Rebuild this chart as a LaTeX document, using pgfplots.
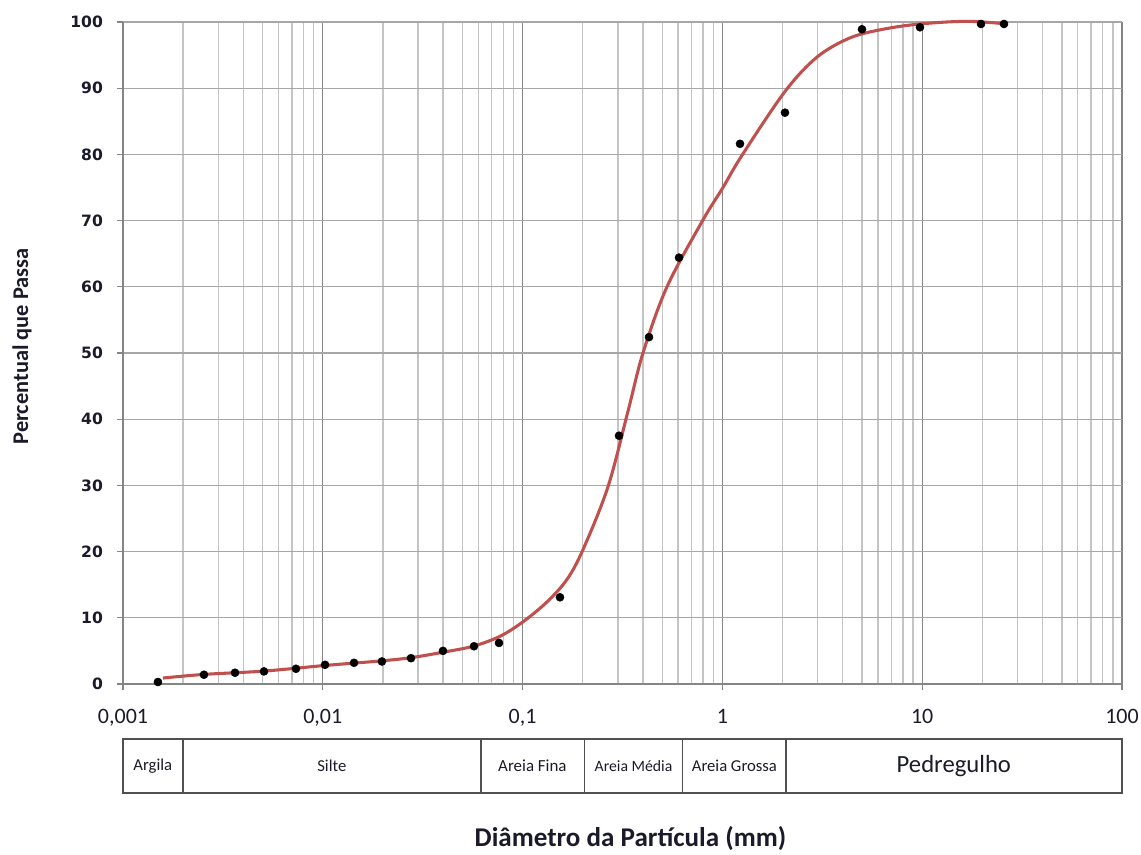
\documentclass[border=0pt]{standalone}
\usepackage{fontspec}
\setmainfont{Carlito}
\newfontfamily\dejavu{DejaVu Sans}
\usepackage{pgfplots}
\pgfplotsset{compat=1.18}
\definecolor{curvered}{HTML}{C0504D}
\definecolor{gridlight}{HTML}{C4C4C4}
\definecolor{griddark}{HTML}{858585}
\definecolor{tabline}{HTML}{505050}
\definecolor{txt}{HTML}{1A1A2A}
\begin{document}
\begin{tikzpicture}
\path[use as bounding box] (-92.25pt,-128.25pt) rectangle (763.5pt,513pt);
\begin{axis}[
  scale only axis,
  width=749.25pt, height=496.5pt,
  xmode=log, log basis x=10,
  xmin=0.001, xmax=100, ymin=0, ymax=100,
  xtick={0.001,0.01,0.1,1,10,100},
  xticklabels={{0,001},{0,01},{0,1},1,10,100},
  minor xtick={0.002,0.003,0.004,0.005,0.006,0.007,0.008,0.009,
               0.02,0.03,0.04,0.05,0.06,0.07,0.08,0.09,
               0.2,0.3,0.4,0.5,0.6,0.7,0.8,0.9,
               2,3,4,5,6,7,8,9,
               20,30,40,50,60,70,80,90},
  ytick={0,10,...,100},
  /pgf/number format/assume math mode=true,
  axis lines=left,
  axis line style={-, draw=griddark, line width=1.1pt},
  tick align=outside,
  major tick length=4.5pt,
  minor tick length=0pt,
  tick style={draw=griddark, line width=1pt},
  xmajorgrids, xminorgrids, ymajorgrids,
  major x grid style={draw=griddark, line width=1pt},
  minor x grid style={draw=gridlight, line width=1pt},
  major y grid style={draw=gridlight!85!black, line width=1pt},
  xticklabel style={font=\fontsize{16.5}{18}\selectfont, text=txt, yshift=-11pt},
  yticklabel style={font=\dejavu\bfseries\fontsize{11.7}{13}\selectfont, text=txt, xshift=-7pt},
  xlabel={Diâmetro da Partícula (mm)},
  ylabel={Percentual que Passa},
  xlabel style={at={(axis description cs:0.508,-0.234)}, anchor=center, text=txt, font=\bfseries\fontsize{20.3}{24}\selectfont},
  ylabel style={at={(axis description cs:-0.101,0.51)}, anchor=center, text=txt, font=\bfseries\fontsize{16.8}{19}\selectfont},
  clip=false,
]
% fitted curve
\addplot[curvered, line width=2.3pt, smooth, tension=0.55] coordinates {
(0.001585,0.9) (0.002543,1.45) (0.005077,1.95) (0.01026,2.8) (0.01977,3.5)
(0.02796,4.0) (0.03996,4.8) (0.05647,5.7) (0.07707,7.2) (0.1005,9.4)
(0.1325,12.4) (0.1668,15.8) (0.2006,20.3) (0.2676,29.8) (0.3369,41.2)
(0.4005,50.0) (0.5281,60.0) (0.7998,70.1) (1.007,75.0) (1.25,79.8)
(2.057,89.5) (2.976,94.7) (4.352,97.6) (6.365,98.9) (9.75,99.7)
(16.76,100.1) (26.58,99.7)
};
% measured points
\addplot[only marks, mark=*, mark size=3pt, black] coordinates {
(0.001496,0.3) (0.002543,1.4) (0.003636,1.7) (0.005077,1.9) (0.007342,2.3)
(0.01026,2.9) (0.01433,3.2) (0.01977,3.4) (0.02763,3.9) (0.03996,5.0)
(0.05713,5.7) (0.07619,6.2) (0.1539,13.1) (0.3038,37.5) (0.4292,52.4)
(0.6066,64.4) (1.225,81.6) (2.057,86.3) (4.996,98.9) (9.75,99.2)
(19.7,99.7) (25.67,99.7)
};
% classification table
\draw[tabline, line width=1.4pt] (axis cs:0.001,-8.31) rectangle (axis cs:100,-16.47);
\draw[tabline, line width=1.4pt] (axis cs:0.002,-8.31) -- (axis cs:0.002,-16.47);
\draw[tabline, line width=1.4pt] (axis cs:0.062,-8.31) -- (axis cs:0.062,-16.47);
\draw[tabline, line width=1.4pt] (axis cs:0.204,-8.31) -- (axis cs:0.204,-16.47);
\draw[tabline, line width=1.4pt] (axis cs:0.631,-8.31) -- (axis cs:0.631,-16.47);
\draw[tabline, line width=1.4pt] (axis cs:2.09,-8.31) -- (axis cs:2.09,-16.47);
\node[text=txt, font=\fontsize{12.5}{14}\selectfont] at (axis cs:0.00141,-12.39) {Argila};
\node[text=txt, font=\fontsize{12.5}{14}\selectfont] at (axis cs:0.0111,-12.39) {Silte};
\node[text=txt, font=\fontsize{12.7}{14}\selectfont] at (axis cs:0.112,-12.39) {Areia Fina};
\node[text=txt, font=\fontsize{11.8}{14}\selectfont] at (axis cs:0.359,-12.39) {Areia Média};
\node[text=txt, font=\fontsize{12.5}{14}\selectfont] at (axis cs:1.148,-12.39) {Areia Grossa};
\node[text=txt, font=\fontsize{18.5}{22}\selectfont] at (axis cs:14.4,-12.39) {Pedregulho};
\end{axis}
\end{tikzpicture}
\end{document}
